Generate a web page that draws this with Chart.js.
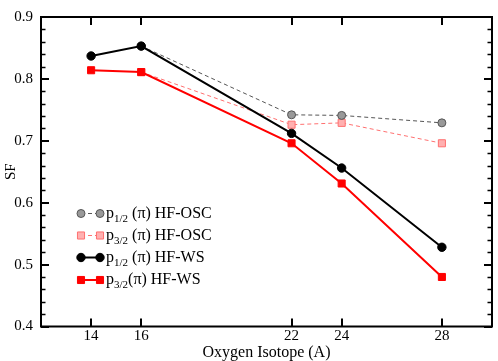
<!DOCTYPE html>
<html>
<head>
<meta charset="utf-8">
<script src="https://cdn.jsdelivr.net/npm/chart.js@4.4.1/dist/chart.umd.min.js"></script>
<style>
  html, body { margin: 0; padding: 0; background: #fff; }
  #wrap { width: 498px; height: 361px; }
</style>
</head>
<body>
<div id="wrap"><canvas id="c" width="498" height="361"></canvas></div>
<script>
// ---- data ----
const isotopes = [14, 16, 22, 24, 28];
const p12_osc = [null, 0.853, 0.742, 0.741, 0.729];
const p32_osc = [null, 0.811, 0.726, 0.729, 0.696];
const p12_ws  = [0.837, 0.853, 0.712, 0.656, 0.528];
const p32_ws  = [0.814, 0.811, 0.696, 0.631, 0.480];
const xTicks = [14, 16, 22, 24, 28];
const yTicks = [0.4, 0.5, 0.6, 0.7, 0.8, 0.9];
const yMinorTicks = [0.42,0.44,0.46,0.48,0.52,0.54,0.56,0.58,0.62,0.64,0.66,0.68,0.72,0.74,0.76,0.78,0.82,0.84,0.86,0.88];
const legendSub = ['1/2', '3/2', '1/2', '3/2'];
const legendRest = [' (π) HF-OSC', ' (π) HF-OSC', ' (π) HF-WS', '(π) HF-WS'];

const toPts = arr => isotopes.map((x, i) => ({x: x, y: arr[i]}));
const SERIF = '"Liberation Serif", "DejaVu Serif", serif';

const datasets = [
  { label: 'p1/2 (π) HF-OSC', data: toPts(p12_osc), borderColor: '#555', borderWidth: 1, borderDash: [4, 3],
    pointStyle: 'circle', pointRadius: 4, pointBackgroundColor: '#999', pointBorderColor: '#555', pointBorderWidth: 1, order: 2 },
  { label: 'p3/2 (π) HF-OSC', data: toPts(p32_osc), borderColor: '#ff7070', borderWidth: 1, borderDash: [4, 3],
    pointStyle: 'rect', pointRadius: 5, pointBackgroundColor: '#ffb0b0', pointBorderColor: '#ff7070', pointBorderWidth: 1, order: 2 },
  { label: 'p1/2 (π) HF-WS', data: toPts(p12_ws), borderColor: '#000', borderWidth: 2,
    pointStyle: 'circle', pointRadius: 4.2, pointBackgroundColor: '#000', pointBorderColor: '#000', pointBorderWidth: 1, order: 1 },
  { label: 'p3/2 (π) HF-WS', data: toPts(p32_ws), borderColor: '#ff0000', borderWidth: 2,
    pointStyle: 'rect', pointRadius: 5, pointBackgroundColor: '#ff0000', pointBorderColor: '#ff0000', pointBorderWidth: 1, order: 1 }
];

const framePlugin = {
  id: 'frame',
  afterDraw(chart) {
    const ctx = chart.ctx, a = chart.chartArea;
    const xs = chart.scales.x, ys = chart.scales.y;
    ctx.save();
    ctx.strokeStyle = '#000';
    ctx.lineWidth = 2;
    ctx.strokeRect(a.left, a.top, a.right - a.left, a.bottom - a.top);
    ctx.beginPath();
    xTicks.forEach(v => {
      const px = Math.round(xs.getPixelForValue(v));
      ctx.moveTo(px, a.bottom); ctx.lineTo(px, a.bottom - 8);
      ctx.moveTo(px, a.top); ctx.lineTo(px, a.top + 8);
    });
    yTicks.forEach(v => {
      const py = Math.round(ys.getPixelForValue(v));
      ctx.moveTo(a.left, py); ctx.lineTo(a.left + 8, py);
      ctx.moveTo(a.right, py); ctx.lineTo(a.right - 8, py);
    });
    ctx.stroke();
    ctx.beginPath();
    ctx.lineWidth = 1.5;
    yMinorTicks.forEach(v => {
      const py = Math.round(ys.getPixelForValue(v)) + 0.5;
      ctx.moveTo(a.left, py); ctx.lineTo(a.left + 4.5, py);
      ctx.moveTo(a.right, py); ctx.lineTo(a.right - 4.5, py);
    });
    ctx.stroke();
    ctx.restore();

    // legend
    const rowsY = [213.5, 235.5, 257.5, 280];
    const x0 = 81, x1 = 100, tx = 106;
    datasets.forEach((ds, i) => {
      const y = rowsY[i];
      ctx.save();
      ctx.strokeStyle = ds.borderColor;
      ctx.lineWidth = ds.borderWidth;
      ctx.setLineDash(ds.borderDash || []);
      ctx.beginPath(); ctx.moveTo(x0, y); ctx.lineTo(x1, y); ctx.stroke();
      ctx.setLineDash([]);
      [x0, x1].forEach(px => {
        ctx.fillStyle = ds.pointBackgroundColor;
        ctx.strokeStyle = ds.pointBorderColor;
        ctx.lineWidth = ds.pointBorderWidth;
        Chart.helpers.drawPoint(ctx, {
          pointStyle: ds.pointStyle, radius: ds.pointRadius, rotation: 0,
          borderWidth: ds.pointBorderWidth
        }, px, y);
      });
      ctx.restore();
      ctx.save();
      ctx.fillStyle = '#000';
      ctx.textBaseline = 'alphabetic';
      ctx.textAlign = 'left';
      ctx.font = '16px ' + SERIF;
      ctx.fillText('p', tx, y + 4);
      let w = ctx.measureText('p').width;
      ctx.font = '11px ' + SERIF;
      ctx.fillText(legendSub[i], tx + w, y + 8);
      w += ctx.measureText(legendSub[i]).width;
      ctx.font = '16px ' + SERIF;
      ctx.fillText(legendRest[i], tx + w, y + 4);
      ctx.restore();
    });
  }
};

Chart.defaults.font.family = SERIF;
Chart.defaults.color = '#000';

new Chart(document.getElementById('c'), {
  type: 'line',
  data: { datasets: datasets },
  options: {
    responsive: false,
    animation: false,
    devicePixelRatio: 1,
    layout: { padding: { top: 6, right: 3, left: 0, bottom: 0 } },
    plugins: { legend: { display: false }, tooltip: { enabled: false } },
    elements: { line: { tension: 0 } },
    scales: {
      x: {
        type: 'linear', min: 12, max: 30,
        afterBuildTicks: s => { s.ticks = xTicks.map(v => ({ value: v })); },
        afterFit: s => { s.height = 34.5; },
        grid: { display: false, drawTicks: false },
        border: { display: false },
        ticks: { font: { size: 15, family: SERIF }, padding: 1, color: '#000', maxRotation: 0, autoSkip: false },
        title: { display: true, text: 'Oxygen Isotope (A)', font: { size: 16, family: SERIF }, color: '#000', padding: { top: 0, bottom: -1 } }
      },
      y: {
        min: 0.4, max: 0.9,
        afterBuildTicks: s => { s.ticks = yTicks.map(v => ({ value: v })); },
        afterFit: s => { s.width = 41; },
        grid: { display: false, drawTicks: false },
        border: { display: false },
        ticks: { font: { size: 15, family: SERIF }, padding: 8, color: '#000', callback: v => v.toFixed(1) },
        title: { display: true, text: 'SF', font: { size: 15, family: SERIF }, color: '#000', padding: { top: 2, bottom: 0 } }
      }
    }
  },
  plugins: [framePlugin]
});
</script>
</body>
</html>
